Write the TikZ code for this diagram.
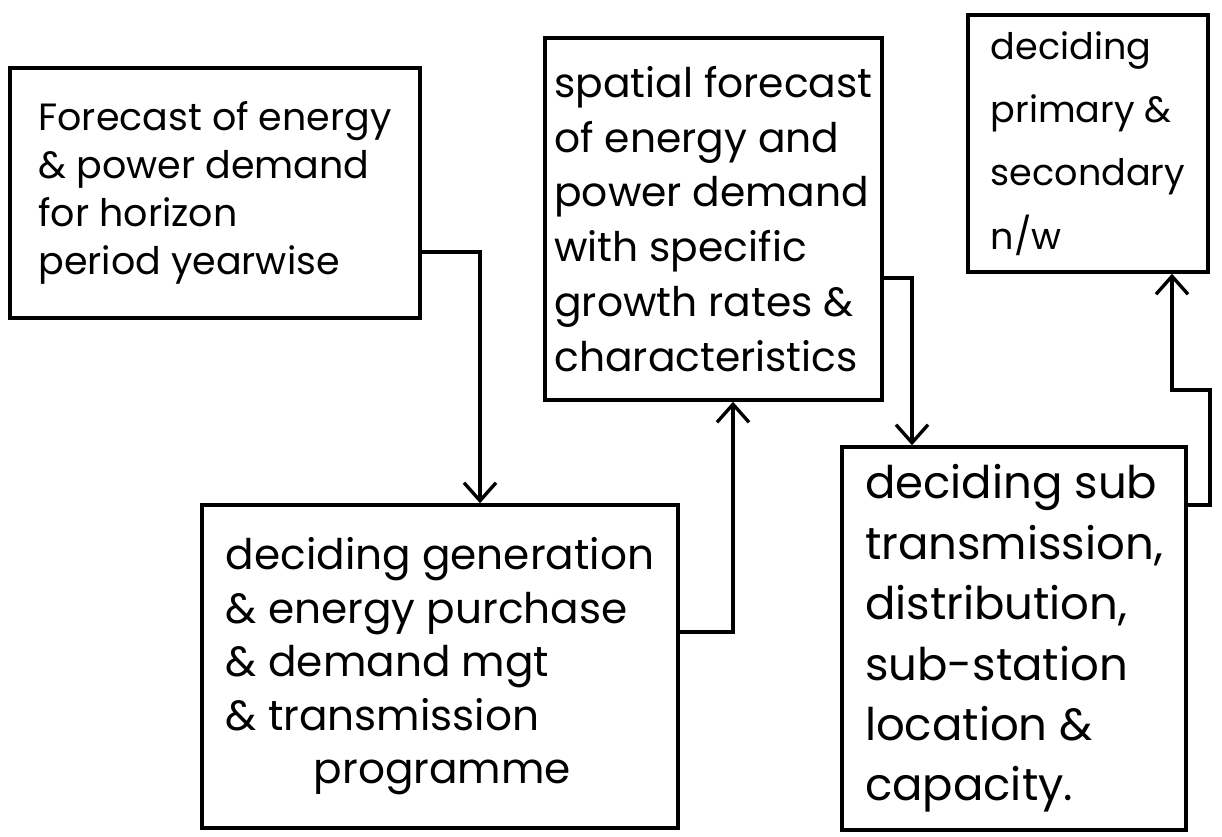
\documentclass[tikz,border=0pt]{standalone}
\usepackage{fontspec}
\setmainfont{Poppins}
\usetikzlibrary{arrows.meta,positioning}
\newcommand\hand[2]{\fontsize{#1}{#2}\selectfont}

\begin{document}
\begin{tikzpicture}[
  x=0.025cm, y=-0.025cm,
  box/.style={draw, line width=2.4pt, align=left, inner sep=0pt},
  arrow/.style={-{Straight Barb[length=4.5mm, width=8mm, line width=2.4pt]}, line width=2.4pt},
]
\useasboundingbox[fill=white] (0,0) rectangle (1222,836);

\node[box, font=\hand{27}{34}, minimum width=10.25cm, minimum height=6.25cm] (fc) at (215,193)
  {Forecast of energy\\\& power demand\\for horizon\\period yearwise};
\node[box, font=\hand{29}{39}, minimum width=8.425cm, minimum height=9.05cm] (spat) at (713.5,219)
  {spatial forecast\\of energy and\\power demand\\with specific\\growth rates \&\\characteristics};
\node[box, font=\hand{26}{45}, minimum width=6cm, minimum height=6.425cm] (prim) at (1088,143.5)
  {deciding\\primary \&\\secondary\\n/w};
\node[box, font=\hand{30}{38}, minimum width=11.9cm, minimum height=8.075cm] (gen) at (440,666.5)
  {deciding generation\\\& energy purchase\\\& demand mgt\\\& transmission\\\hspace*{2.2cm}programme};
\node[box, font=\hand{32}{43}, minimum width=8.6cm, minimum height=9.575cm] (sub) at (1014,638.5)
  {deciding sub\\transmission,\\distribution,\\sub-station\\location \&\\capacity.};

\draw[arrow] (fc.east |- 0,252) -| (gen.north -| 480,0);
\draw[arrow] (gen.east |- 0,632) -| (spat.south -| 733,0);
\draw[arrow] (spat.east |- 0,278) -| (sub.north -| 912,0);
\draw[arrow] (sub.east |- 0,505) -- (1210,505) |- (1172,390) -- (prim.south -| 1172,0);
\end{tikzpicture}
\end{document}
